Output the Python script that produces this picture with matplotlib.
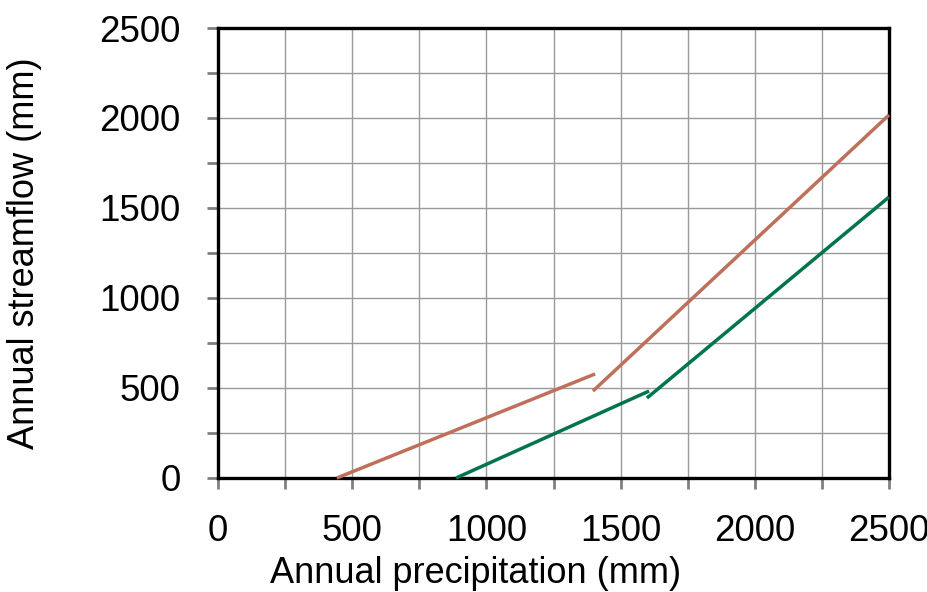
import numpy as np
import matplotlib
matplotlib.use("Agg")
import matplotlib.pyplot as plt

plt.rcParams['font.family'] = ['Liberation Sans', 'DejaVu Sans']

# segment endpoints (precipitation, streamflow)
brown_low_x = [443, 1405]
brown_low_y = [0, 578]
brown_high_x = [1397, 2500]
brown_high_y = [483, 2017]

green_low_x = [887, 1606]
green_low_y = [0, 483]
green_high_x = [1598, 2500]
green_high_y = [444, 1561]

ticks = np.arange(0, 2501, 500)
minor = np.arange(0, 2501, 250)

brown = '#BF705B'
green = '#00744A'

fig = plt.figure(figsize=(9.28, 5.92), dpi=100)
ax = fig.add_axes([0.2349, 0.1926, 0.958 - 0.2349, 0.9527 - 0.1926])

for xs, ys, c in [(brown_low_x, brown_low_y, brown), (brown_high_x, brown_high_y, brown),
                  (green_low_x, green_low_y, green), (green_high_x, green_high_y, green)]:
    ax.plot(xs, ys, color=c, lw=2.5, solid_capstyle='butt', zorder=3, clip_on=False)

ax.set_xlim(0, 2500)
ax.set_ylim(0, 2500)
ax.set_xticks(ticks)
ax.set_yticks(ticks)
ax.set_xticks(minor, minor=True)
ax.set_yticks(minor, minor=True)
ax.grid(True, which='both', color='#9a9a9a', lw=1.0)
ax.set_axisbelow(True)

for s in ax.spines.values():
    s.set_linewidth(2.4)
    s.set_color('black')

ax.tick_params(which='both', direction='out', length=8, width=2, color='#808080',
               labelsize=26.5)
ax.tick_params(axis='y', pad=19)
ax.tick_params(axis='x', pad=18)

ax.set_xlabel('Annual precipitation (mm)', fontsize=26)
ax.set_ylabel('Annual streamflow (mm)', fontsize=26)
ax.xaxis.set_label_coords(0.3838, -0.173)
ax.yaxis.set_label_coords(-0.262, 0.5)

fig.savefig('out.png', dpi=100)
